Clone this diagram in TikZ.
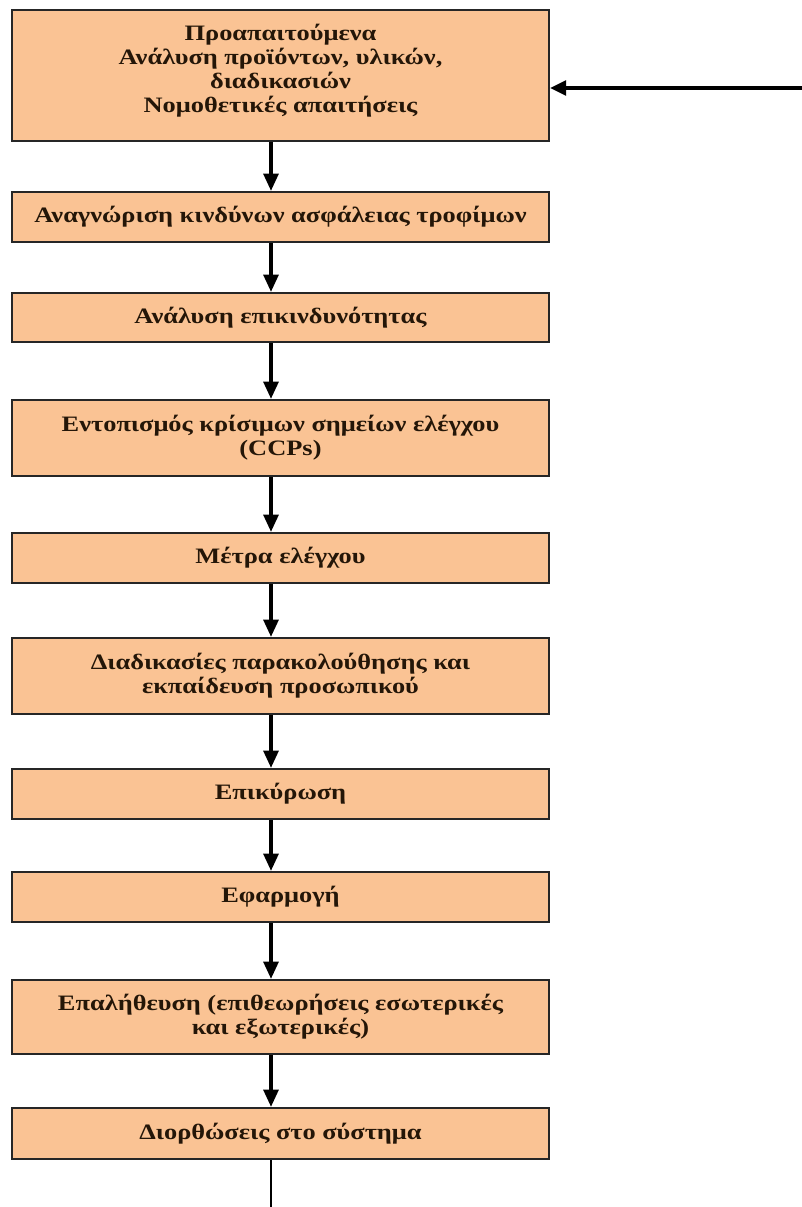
\documentclass[tikz,border=0pt]{standalone}
\usepackage{fontspec}
\setmainfont{Liberation Serif}[FakeStretch=1.2]
\usetikzlibrary{arrows.meta}
\definecolor{boxfill}{HTML}{FAC394}
\definecolor{txt}{HTML}{241608}
\tikzset{
  stage/.style={draw=black!85, line width=1.5pt, fill=boxfill, minimum width=402.75pt,
    align=center, font=\bfseries\fontsize{16.5}{18}\selectfont, text=txt, inner sep=0pt},
  flow/.style={line width=2.8pt, -{Triangle[length=13pt,width=11pt]}},
  feed/.style={line width=2.6pt, -{Triangle[length=12pt,width=11pt]}},
  tail/.style={line width=1.3pt}
}
\begin{document}
\begin{tikzpicture}[x=0.75pt,y=-0.75pt]
\useasboundingbox (0,0) rectangle (802,1207);
\node[stage, minimum height=98.25pt] (b1) at (280.5,75.5) {Προαπαιτούμενα\\Ανάλυση προϊόντων, υλικών,\\διαδικασιών\\Νομοθετικές απαιτήσεις\\[-12pt]\strut};
\node[stage, minimum height=37.5pt] (b2) at (280.5,217) {Αναγνώριση κινδύνων ασφάλειας τροφίμων};
\node[stage, minimum height=36.75pt] (b3) at (280.5,317.5) {Ανάλυση επικινδυνότητας};
\node[stage, minimum height=57pt] (b4) at (280.5,438) {Εντοπισμός κρίσιμων σημείων ελέγχου\\(CCPs)};
\node[stage, minimum height=37.5pt] (b5) at (280.5,558) {Μέτρα ελέγχου};
\node[stage, minimum height=57pt] (b6) at (280.5,676) {Διαδικασίες παρακολούθησης και\\εκπαίδευση προσωπικού};
\node[stage, minimum height=37.5pt] (b7) at (280.5,794) {Επικύρωση};
\node[stage, minimum height=37.5pt] (b8) at (280.5,897) {Εφαρμογή};
\node[stage, minimum height=55.5pt] (b9) at (280.5,1017) {Επαλήθευση (επιθεωρήσεις εσωτερικές\\και εξωτερικές)};
\node[stage, minimum height=38.25pt] (b10) at (280.5,1133.5) {Διορθώσεις στο σύστημα};
\coordinate (ax) at (271,0);
\foreach \a/\b in {b1/b2,b2/b3,b3/b4,b4/b5,b5/b6,b6/b7,b7/b8,b8/b9,b9/b10}
  \draw[flow] (\a.south -| ax) -- (\b.north -| ax);
\coordinate (fin) at (802,88);
\draw[feed] (fin) -- (fin -| b1.east);
\coordinate (bot) at (271,1207);
\draw[tail] (b10.south -| ax) -- (bot);
\end{tikzpicture}
\end{document}
